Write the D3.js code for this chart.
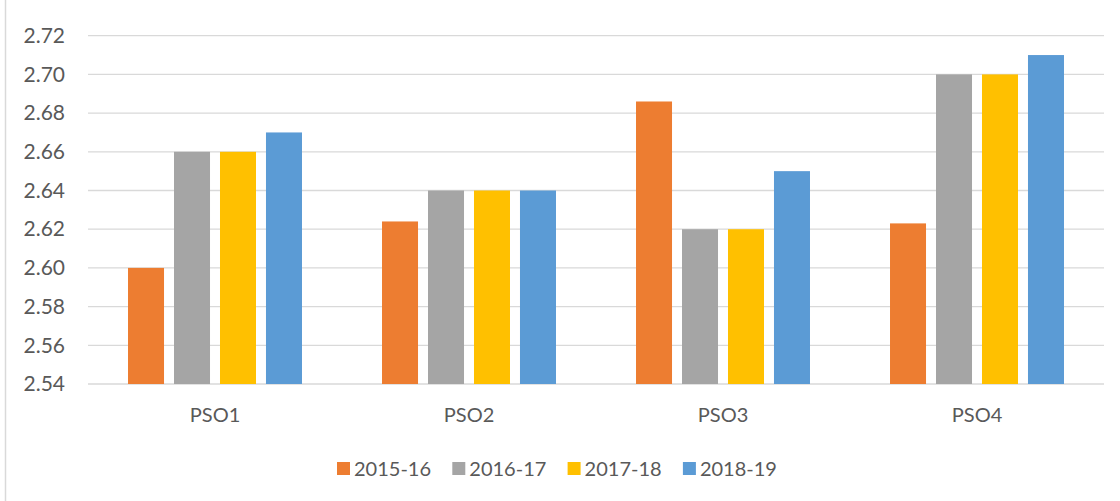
<!DOCTYPE html>
<html>
<head>
<meta charset="utf-8">
<script src="https://cdn.jsdelivr.net/npm/d3@7"></script>
<style>
  body { margin: 0; background: #fff; }
  #chart { width: 1120px; height: 501px; }
  text { font-family: Lato, "Open Sans", sans-serif; fill: #595959; }
</style>
</head>
<body>
<div id="chart"></div>
<script>
// chart data
var categories = ["PSO1", "PSO2", "PSO3", "PSO4"];
var seriesNames = ["2015-16", "2016-17", "2017-18", "2018-19"];
var v2015 = [2.600, 2.624, 2.686, 2.623];
var v2016 = [2.66, 2.64, 2.62, 2.70];
var v2017 = [2.66, 2.64, 2.62, 2.70];
var v2018 = [2.67, 2.64, 2.65, 2.71];
var yTicks = [2.54, 2.56, 2.58, 2.60, 2.62, 2.64, 2.66, 2.68, 2.70, 2.72];

var colors = ["#ED7D31", "#A5A5A5", "#FFC000", "#5B9BD5"];
var allValues = [v2015, v2016, v2017, v2018];

var width = 1120, height = 501;
var margin = {left: 88, right: 16, top: 35.7, bottom: 117};

var svg = d3.select("#chart").append("svg")
    .attr("width", width)
    .attr("height", height);

// outer chart border (left edge visible)
svg.append("line")
    .attr("x1", 5.5).attr("x2", 5.5)
    .attr("y1", 0).attr("y2", height)
    .attr("stroke", "#D9D9D9")
    .attr("stroke-width", 1.5);

var plotW = width - margin.left - margin.right;
var plotH = height - margin.top - margin.bottom;

var x0 = d3.scaleBand().domain(categories).range([0, plotW]);
var x1 = d3.scaleBand().domain(seriesNames).range([0, x0.bandwidth()])
    .paddingInner(0.217).paddingOuter(0.87);
var y = d3.scaleLinear().domain([2.54, 2.72]).range([plotH, 0]);

var g = svg.append("g")
    .attr("transform", "translate(" + margin.left + "," + margin.top + ")");

// gridlines
g.selectAll(".grid")
    .data(yTicks)
    .enter().append("line")
    .attr("x1", 0).attr("x2", plotW)
    .attr("y1", function(d) { return y(d); })
    .attr("y2", function(d) { return y(d); })
    .attr("stroke", "#D9D9D9")
    .attr("stroke-width", 1.3);

// y axis labels
var yAxis = d3.axisLeft(y).tickValues(yTicks).tickFormat(d3.format(".2f")).tickSize(0).tickPadding(23);
var ya = g.append("g").call(yAxis);
ya.select(".domain").remove();
ya.selectAll("text").style("font-size", "21px").attr("fill", "#595959");

// bars
var rows = categories.map(function(c, i) {
  return {cat: c, vals: seriesNames.map(function(s, j) { return {series: s, idx: j, value: allValues[j][i]}; })};
});

var groups = g.selectAll(".cat")
    .data(rows)
    .enter().append("g")
    .attr("transform", function(d) { return "translate(" + x0(d.cat) + ",0)"; });

groups.selectAll("rect")
    .data(function(d) { return d.vals; })
    .enter().append("rect")
    .attr("x", function(d) { return x1(d.series); })
    .attr("width", x1.bandwidth())
    .attr("y", function(d) { return y(d.value); })
    .attr("height", function(d) { return plotH - y(d.value); })
    .attr("fill", function(d) { return colors[d.idx]; });

// x axis labels
var xAxis = d3.axisBottom(x0).tickSize(0).tickPadding(24);
var xa = g.append("g").attr("transform", "translate(0," + plotH + ")").call(xAxis);
xa.select(".domain").remove();
xa.selectAll("text").style("font-size", "20px").attr("fill", "#595959");

// legend
var legend = svg.append("g").attr("transform", "translate(337,462)");
var items = legend.selectAll(".item")
    .data(seriesNames)
    .enter().append("g")
    .attr("transform", function(d, i) { return "translate(" + (i * 115.3) + ",0)"; });
items.append("rect")
    .attr("width", 13).attr("height", 13)
    .attr("fill", function(d, i) { return colors[i]; });
items.append("text")
    .attr("x", 17).attr("y", 6.5)
    .attr("dy", "0.36em")
    .style("font-size", "20px")
    .text(function(d) { return d; });
</script>
</body>
</html>
